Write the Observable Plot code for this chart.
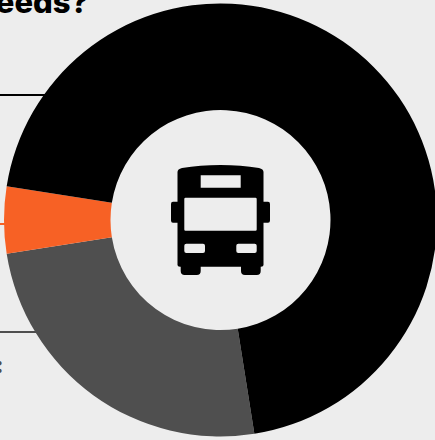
<!DOCTYPE html>
<html>
<head>
<meta charset="utf-8">
<script src="https://cdn.jsdelivr.net/npm/d3@7"></script>
<script src="https://cdn.jsdelivr.net/npm/@observablehq/plot@0.6"></script>
<style>
  html, body { margin: 0; padding: 0; background: #ededed; overflow: hidden; }
  svg { display: block; }
</style>
</head>
<body>
<script>
// Share of each answer, in percent, listed clockwise from the gray slice.
const answers = ["Gray answer", "Orange answer", "Black answer"];
const shares = [25, 5, 70];
const sliceColors = ["#4f4f4f", "#f76125", "#000000"];

// Leader lines running from the off-page callouts to the ring.
const leaderRows = [94.5, 223.5, 331.5];
const leaderColors = ["#000000", "#f76125", "#4f4f4f"];

const slices = answers.map((answer, i) => ({answer, share: shares[i], color: sliceColors[i]}));
const leaders = leaderRows.map((row, i) => ({row, color: leaderColors[i]}));

const width = 435, height = 440;
const cx = 220.5, cy = 220, outer = 216.5, inner = 110;
const startAngle = 171 * Math.PI / 180;

// Turns the stacked bars into ring segments: a bar's extent along x becomes its sweep.
function ringSegments(index, scales, values) {
  const g = d3.create("svg:g");
  const toAngle = px => startAngle + (px / width) * 2 * Math.PI;
  const arc = d3.arc().innerRadius(inner).outerRadius(outer);
  for (const i of index) {
    g.append("path")
      .attr("transform", `translate(${cx},${cy})`)
      .attr("fill", values.fill ? values.fill[i] : slices[i].color)
      .attr("d", arc({startAngle: toAngle(values.x1[i]), endAngle: toAngle(values.x2[i])}));
  }
  return g.node();
}

// Bus pictogram at the centre of the ring.
function busIcon() {
  const body = [
    "M177.5 172 Q177.5 169 182 168 Q200 165 220.5 165 Q241 165 259 168 Q263.5 169 263.5 172",
    "V201.7 H268 Q270 201.7 270 204 V220.5 Q270 222.7 268 222.7 H263.5",
    "V265 Q263.5 266.7 261 266.7 H260.7 V271 Q260.7 275 256.7 275 H245 Q241 275 241 271 V266.7",
    "H200.7 V271 Q200.7 275 196.7 275 H184.7 Q180.7 275 180.7 271 V266.7",
    "H180 Q177.5 266.7 177.5 265 V222.7 H173 Q171 222.7 171 220.5 V204 Q171 201.7 173 201.7 H177.5 Z"
  ].join(" ");
  const holes = [
    "M200.7 175.3 H240.7 V187.7 H200.7 Z",
    "M185.5 197.7 H255.5 Q256.7 197.7 256.7 199 V229.5 Q256.7 230.7 255.5 230.7 H185.5 Q184.3 230.7 184.3 229.5 V199 Q184.3 197.7 185.5 197.7 Z",
    "M186.3 243.7 H203 Q205 243.7 205 245.7 V251 Q205 253 203 253 H186.3 Q184.3 253 184.3 251 V245.7 Q184.3 243.7 186.3 243.7 Z",
    "M238.3 243.7 H254.7 Q256.7 243.7 256.7 245.7 V251 Q256.7 253 254.7 253 H238.3 Q236.3 253 236.3 251 V245.7 Q236.3 243.7 238.3 243.7 Z"
  ].join(" ");
  return d3.create("svg:path")
    .attr("fill", "#000000")
    .attr("fill-rule", "evenodd")
    .attr("d", `${body} ${holes}`)
    .node();
}

const chart = Plot.plot({
  width,
  height,
  margin: 0,
  style: {background: "#ededed"},
  x: {domain: [0, 100], range: [0, width], axis: null},
  y: {domain: [0, height], range: [0, height], axis: null},
  color: {type: "identity"},
  marks: [
    Plot.ruleY(leaders, {y: "row", x1: 0, x2: 15, stroke: "color", strokeWidth: 2}),
    Plot.barX(slices, Plot.stackX({x: "share", fill: "color", order: null, render: ringSegments})),
    busIcon,
    Plot.text(["needs?"], {
      frameAnchor: "top-left", dx: 88, dy: 12, textAnchor: "end", lineAnchor: "bottom",
      fontFamily: "Inter", fontWeight: 800, fontSize: 31, fill: "#000000"
    }),
    Plot.text([":"], {
      frameAnchor: "top-left", dx: 3, dy: 372, textAnchor: "end", lineAnchor: "bottom",
      fontFamily: "Inter", fontWeight: 900, fontSize: 22, fill: "#4f4f4f"
    })
  ]
});
document.body.appendChild(chart);
</script>
</body>
</html>
